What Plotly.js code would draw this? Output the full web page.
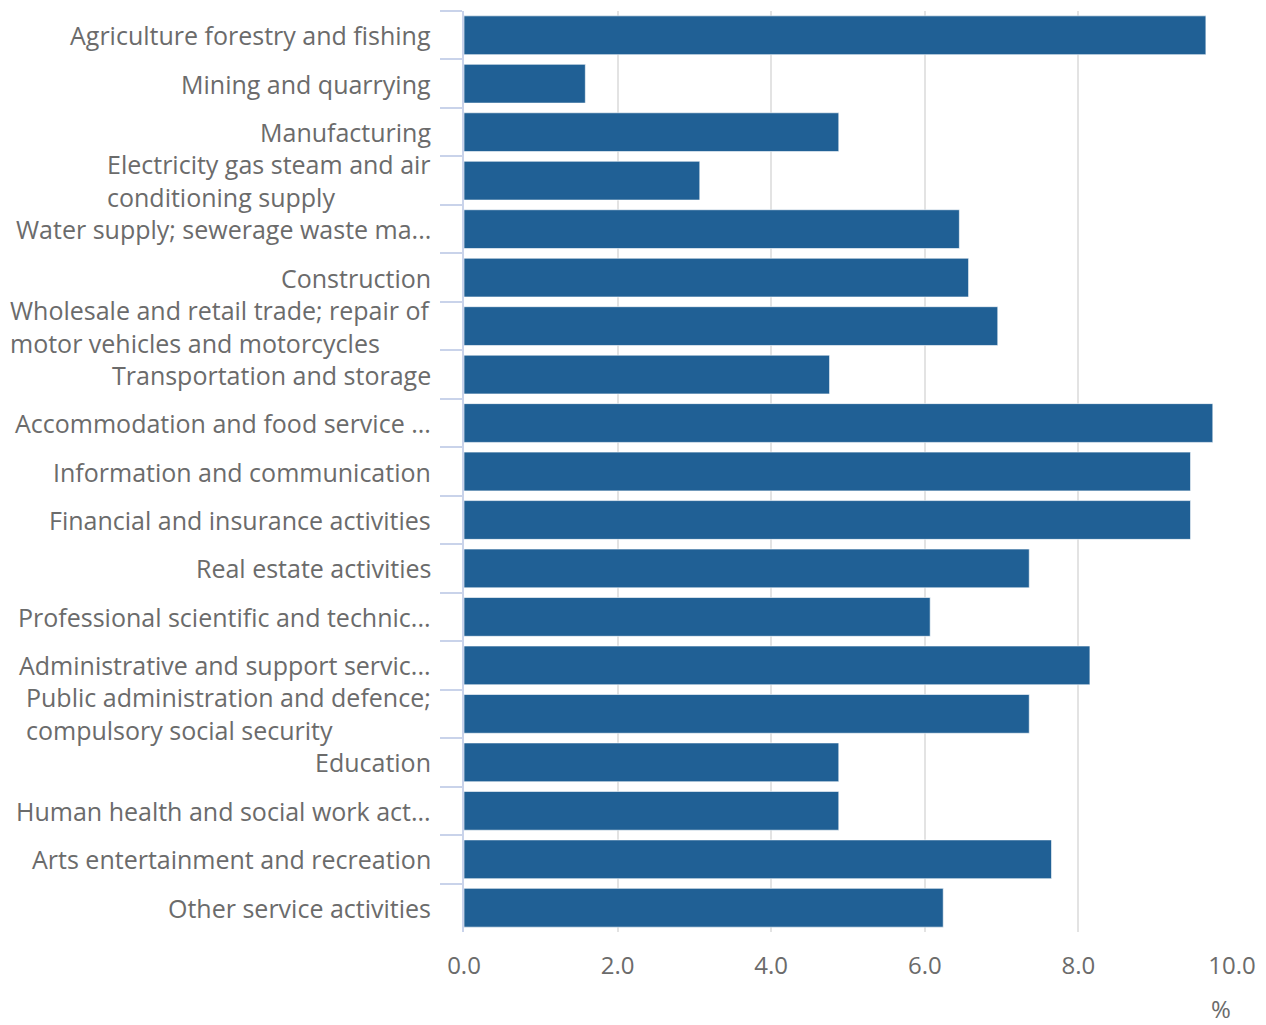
<!DOCTYPE html>
<html>
<head>
<meta charset="utf-8">
<script src="https://cdn.plot.ly/plotly-3.0.1.min.js"></script>
<style>html,body{margin:0;padding:0;background:#fff;}#chart{width:1266px;height:1025px;}</style>
</head>
<body>
<div id="chart"></div>
<script>
const categories = [
  "Agriculture forestry and fishing",
  "Mining and quarrying",
  "Manufacturing",
  "Electricity gas steam and air conditioning supply",
  "Water supply; sewerage waste management and remediation activities",
  "Construction",
  "Wholesale and retail trade; repair of motor vehicles and motorcycles",
  "Transportation and storage",
  "Accommodation and food service activities",
  "Information and communication",
  "Financial and insurance activities",
  "Real estate activities",
  "Professional scientific and technical activities",
  "Administrative and support service activities",
  "Public administration and defence; compulsory social security",
  "Education",
  "Human health and social work activities",
  "Arts entertainment and recreation",
  "Other service activities"
];
const tickLabels = [
  "Agriculture forestry and fishing",
  "Mining and quarrying",
  "Manufacturing",
  "Electricity gas steam and air<br>conditioning supply",
  "Water supply; sewerage waste ma...",
  "Construction",
  "Wholesale and retail trade; repair of<br>motor vehicles and motorcycles",
  "Transportation and storage",
  "Accommodation and food service ...",
  "Information and communication",
  "Financial and insurance activities",
  "Real estate activities",
  "Professional scientific and technic...",
  "Administrative and support servic...",
  "Public administration and defence;<br>compulsory social security",
  "Education",
  "Human health and social work act...",
  "Arts entertainment and recreation",
  "Other service activities"
];
const values = [9.66, 1.58, 4.88, 3.07, 6.45, 6.57, 6.95, 4.76, 9.75, 9.46, 9.46, 7.36, 6.07, 8.15, 7.36, 4.88, 4.88, 7.65, 6.24];
const xTickVals = [0, 2, 4, 6, 8, 10];
const unitLabel = "%";

const textColor = "#6b6b6b";
const fontFamily = "'Open Sans', sans-serif";

const trace = {
  type: "bar",
  orientation: "h",
  x: values,
  y: categories,
  marker: { color: "#206095", line: { color: "rgba(255,255,255,0.6)", width: 1 } },
  hoverinfo: "x+y"
};

const annotations = tickLabels.map((t, i) => ({
  xref: "paper", yref: "y",
  x: 0, y: i,
  xshift: -31,
  xanchor: "right", yanchor: "middle",
  align: "left",
  text: t,
  showarrow: false,
  font: { family: fontFamily, size: 25, color: textColor }
}));
annotations.push({
  xref: "paper", yref: "paper",
  x: 1, y: 0, yshift: -76,
  xanchor: "right", yanchor: "middle",
  borderpad: 0,
  text: unitLabel, showarrow: false,
  font: { family: fontFamily, size: 24, color: textColor }
});

const layout = {
  width: 1266, height: 1025,
  margin: { l: 464, r: 34, t: 11, b: 93 },
  paper_bgcolor: "#fff", plot_bgcolor: "#fff",
  font: { family: fontFamily, size: 24, color: textColor },
  bargap: 0.2,
  showlegend: false,
  xaxis: {
    range: [0, 10],
    tickvals: xTickVals,
    tickformat: ".1f",
    showgrid: true, gridcolor: "#e3e3e3", gridwidth: 2,
    zeroline: false, showline: false,
    ticks: "", ticklabelstandoff: 17,
    tickfont: { family: fontFamily, size: 24, color: textColor }
  },
  yaxis: {
    type: "category",
    autorange: "reversed",
    showticklabels: false,
    ticks: "outside", tickson: "boundaries", ticklen: 22, tickwidth: 2, tickcolor: "#c9d3ea",
    showline: true, linecolor: "#c9d3ea", linewidth: 2,
    showgrid: false, zeroline: false
  },
  annotations: annotations
};

Plotly.newPlot("chart", [trace], layout, { displayModeBar: false, staticPlot: true });
</script>
</body>
</html>
